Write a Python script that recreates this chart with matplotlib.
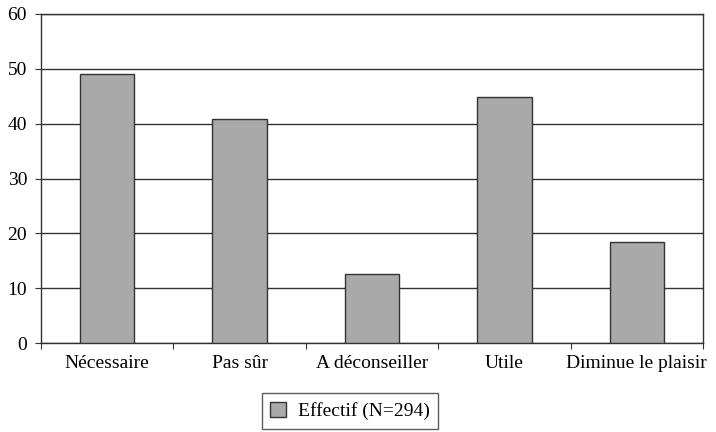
import matplotlib.pyplot as plt
import numpy as np

categories = ['Nécessaire', 'Pas sûr', 'A déconseiller', 'Utile', 'Diminue le plaisir']
values = [49.0, 40.8, 12.6, 44.9, 18.4]
yticks = [0, 10, 20, 30, 40, 50, 60]

plt.rcParams['font.family'] = ['Liberation Serif', 'DejaVu Serif']

fig = plt.figure(figsize=(7.16, 4.32), dpi=100)
ax = fig.add_axes([41 / 716, 1 - 343 / 432, 662 / 716, 329 / 432])

x = np.arange(len(categories))
ax.bar(x, values, width=0.41, color='#a9a9a9', edgecolor='#333333',
       linewidth=1.0, label='Effectif (N=294)', zorder=3)

ax.set_xlim(-0.5, len(categories) - 0.5)
ax.set_ylim(0, 60)
ax.set_yticks(yticks)
ax.yaxis.grid(True, color='#333333', linewidth=1.0, zorder=1)

# category labels centred under bars, ticks on the boundaries
ax.set_xticks(np.arange(len(categories) + 1) - 0.5)
ax.set_xticklabels([])
ax.set_xticks(x, minor=True)
ax.set_xticklabels(categories, minor=True, fontsize=14)
ax.tick_params(axis='x', which='major', direction='out', length=4, color='#333333')
ax.tick_params(axis='x', which='minor', length=0, pad=9)
ax.tick_params(axis='y', direction='out', length=4, color='#333333', labelsize=14, pad=6)

for s in ax.spines.values():
    s.set_color('#333333')
    s.set_linewidth(1.0)

leg = fig.legend(loc='upper center', bbox_to_anchor=(350 / 716, 1 - 393 / 432),
                 fontsize=14, frameon=True, fancybox=False, edgecolor='#333333',
                 handlelength=0.8, handleheight=0.8, borderpad=0.45, handletextpad=0.6,
                 borderaxespad=0)
leg.get_frame().set_linewidth(1.0)

fig.savefig('out.png', dpi=100)
